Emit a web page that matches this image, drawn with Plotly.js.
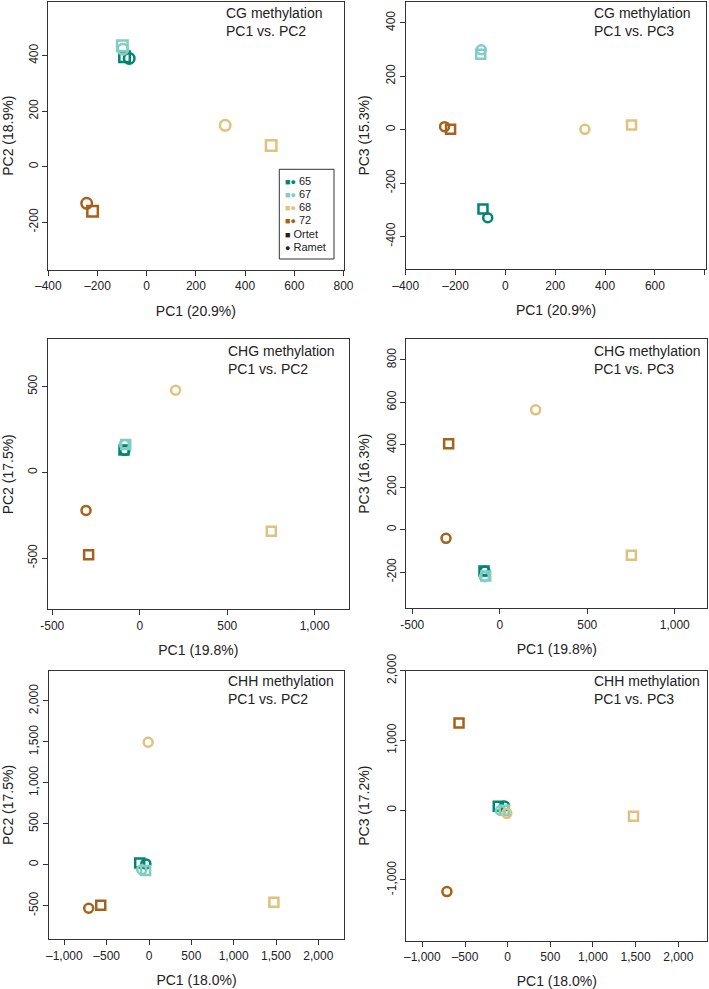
<!DOCTYPE html>
<html>
<head>
<meta charset="utf-8">
<script src="https://cdn.plot.ly/plotly-3.0.1.min.js"></script>
<style>html,body{margin:0;padding:0;background:#fff;}#chart{width:709px;height:989px;}</style>
</head>
<body>
<div id="chart"></div>
<script>
// ---- data ----
const sampleGroup = ['65','65','67','67','68','68','72','72'];
const sampleType  = ['Ortet','Ramet','Ortet','Ramet','Ortet','Ramet','Ortet','Ramet'];
const legendGroups = ['65','67','68','72'];
const legendTypes = ['Ortet','Ramet'];

const cgPC1  = [-90, -71, -99, -97, 506, 319, -220, -244];
const cgPC2  = [396, 390, 436, 423, 76, 149, -160, -132];
const cgPC3  = [-297, -330, 282, 299, 17, 1, 1, 11];

const chgPC1 = [-90, -85, -80, -87, 752, 205, -292, -307];
const chgPC2 = [130, 128, 162, 163, -344, 479, -481, -222];
const chgPC3 = [-195, -195, -219, -222, -121, 565, 405, -41];

const chhPC1 = [-110, -37, -40, -85, 1475, -10, -570, -712];
const chhPC2 = [20, 10, -70, -60, -459, 1496, -496, -532];
const chhPC3 = [55, 60, 0, -5, -86, -45, 1249, -1167];

const cgXTicks = [-400,-200,0,200,400,600,800];
const cgXText1 = ['\u2013400','\u2013200','0','200','400','600','800'];
const cgXText2 = ['\u2013400','\u2013200','0','200','400','600',''];
const cgY1Ticks = [-200,0,200,400];
const cgY1Text = ['-200','0','200','400'];
const cgY2Ticks = [-400,-200,0,200,400];
const cgY2Text = ['-400','-200','0','200','400'];
const chgXTicks = [-500,0,500,1000];
const chgXText = ['-500','0','500','1,000'];
const chgY1Ticks = [-500,0,500];
const chgY1Text = ['-500','0','500'];
const chgY2Ticks = [-200,0,200,400,600,800];
const chgY2Text = ['-200','0','200','400','600','800'];
const chhXTicks = [-1000,-500,0,500,1000,1500,2000];
const chhXText = ['\u20131,000','\u2013500','0','500','1,000','1,500','2,000'];
const chhY1Ticks = [-500,0,500,1000,1500,2000];
const chhY1Text = ['-500','0','500','1,000','1,500','2,000'];
const chhY2Ticks = [-1000,0,1000,2000];
const chhY2Text = ['-1,000','0','1,000','2,000'];

// ---- styles ----
const colorMap = {'65':'#018571','67':'#80CDC1','68':'#DFC27D','72':'#A6611A'};
const symbolMap = {'Ortet':'square-open','Ramet':'circle-open'};
const FONT = 'Liberation Sans, Arial, sans-serif';
const W = 709, H = 989;
const pxX = v => v / W;
const pxY = v => 1 - v / H;

const panels = [
  {box:[48.3,1.5,343.5,270], xr:[-400,800], yr:[-372,595], xd:cgPC1, yd:cgPC2,
   xt:'PC1 (20.9%)', yt:'PC2 (18.9%)', xtv:cgXTicks, xtt:cgXText1, ytv:cgY1Ticks, ytt:cgY1Text,
   label:'CG methylation<br>PC1 vs. PC2', lx:224, ly:22, ms:10.5},
  {box:[405.7,1.7,706.3,269.3], xr:[-400,806], yr:[-523,479], xd:cgPC1, yd:cgPC3,
   xt:'PC1 (20.9%)', yt:'PC3 (15.3%)', xtv:cgXTicks, xtt:cgXText2, ytv:cgY2Ticks, ytt:cgY2Text,
   label:'CG methylation<br>PC1 vs. PC3', lx:592, ly:22, ms:9},
  {box:[47.7,339.3,349,609.3], xr:[-526,1196], yr:[-799,776], xd:chgPC1, yd:chgPC2,
   xt:'PC1 (19.8%)', yt:'PC2 (17.5%)', xtv:chgXTicks, xtt:chgXText, ytv:chgY1Ticks, ytt:chgY1Text,
   label:'CHG methylation<br>PC1 vs. PC2', lx:225.7, ly:360, ms:9},
  {box:[406.3,339,707.3,608.3], xr:[-534,1186], yr:[-371,899], xd:chgPC1, yd:chgPC3,
   xt:'PC1 (19.8%)', yt:'PC3 (16.3%)', xtv:chgXTicks, xtt:chgXText, ytv:chgY2Ticks, ytt:chgY2Text,
   label:'CHG methylation<br>PC1 vs. PC3', lx:592, ly:360, ms:9},
  {box:[49,670.7,344,939.3], xr:[-1181,2303], yr:[-911,2370], xd:chhPC1, yd:chhPC2,
   xt:'PC1 (18.0%)', yt:'PC2 (17.5%)', xtv:chhXTicks, xtt:chhXText, ytv:chhY1Ticks, ytt:chhY1Text,
   label:'CHH methylation<br>PC1 vs. PC2', lx:225.7, ly:690, ms:9},
  {box:[406.3,670.7,707.3,940.7], xr:[-1188,2340], yr:[-1871,2000], xd:chhPC1, yd:chhPC3,
   xt:'PC1 (18.0%)', yt:'PC3 (17.2%)', xtv:chhXTicks, xtt:chhXText, ytv:chhY2Ticks, ytt:chhY2Text,
   label:'CHH methylation<br>PC1 vs. PC3', lx:592, ly:690, ms:9}
];

const data = [];
const layout = {
  width: W, height: H,
  margin: {l:0, r:0, t:0, b:0},
  paper_bgcolor: '#ffffff', plot_bgcolor: '#ffffff',
  showlegend: false,
  font: {family: FONT, color: '#222', size: 12},
  annotations: [], shapes: []
};

panels.forEach((p, i) => {
  const n = i === 0 ? '' : String(i + 1);
  data.push({
    type: 'scatter', mode: 'markers',
    x: p.xd, y: p.yd,
    xaxis: 'x' + n, yaxis: 'y' + n,
    marker: {
      symbol: sampleType.map(t => symbolMap[t]),
      color: sampleGroup.map(g => colorMap[g]),
      size: p.ms,
      line: {width: 2.5}
    },
    hoverinfo: 'x+y'
  });
  const [l, t, r, b] = p.box;
  const axCommon = {
    showgrid: false, zeroline: false,
    showline: true, mirror: true, linecolor: '#333', linewidth: 1,
    ticks: 'outside', ticklen: 5, tickcolor: '#333', tickwidth: 1,
    tickfont: {family: FONT, size: 12, color: '#222'},
    tickmode: 'array', automargin: false, fixedrange: true
  };
  layout['xaxis' + n] = Object.assign({}, axCommon, {
    domain: [pxX(l), pxX(r)], range: p.xr, anchor: 'y' + n,
    tickvals: p.xtv, ticktext: p.xtt,
    title: {text: p.xt, font: {family: FONT, size: 14, color: '#222'}, standoff: 13}
  });
  layout['yaxis' + n] = Object.assign({}, axCommon, {
    domain: [pxY(b), pxY(t)], range: p.yr, anchor: 'x' + n,
    tickvals: p.ytv, ticktext: p.ytt, tickangle: -90,
    title: {text: p.yt, font: {family: FONT, size: 14, color: '#222'}, standoff: 11}
  });
  layout.annotations.push({
    xref: 'paper', yref: 'paper', x: pxX(p.lx), y: pxY(p.ly),
    xanchor: 'left', yanchor: 'middle', align: 'left', showarrow: false,
    text: p.label, font: {family: FONT, size: 14, color: '#222'}
  });
});

// legend inside panel 1 (built from text)
layout.shapes.push({
  type: 'rect', xref: 'paper', yref: 'paper',
  x0: pxX(279.3), x1: pxX(334), y0: pxY(259), y1: pxY(169.3),
  line: {color: '#333', width: 1}, fillcolor: 'rgba(255,255,255,1)'
});
const legendRowsY = [180.5, 193.8, 207.1, 220.4, 233.7, 247];
legendGroups.forEach((g, k) => {
  layout.annotations.push({
    xref: 'paper', yref: 'paper', x: pxX(283.5), y: pxY(legendRowsY[k]),
    xanchor: 'left', yanchor: 'middle', showarrow: false, borderpad: 0,
    text: '<span style="color:' + colorMap[g] + ';font-size:9px">\u25A0\u25CF</span> ' + g,
    font: {family: FONT, size: 11, color: '#222'}
  });
});
legendTypes.forEach((tname, k) => {
  const glyph = tname === 'Ortet' ? '\u25A0' : '\u25CF';
  layout.annotations.push({
    xref: 'paper', yref: 'paper', x: pxX(283.5), y: pxY(legendRowsY[4 + k]),
    xanchor: 'left', yanchor: 'middle', showarrow: false, borderpad: 0,
    text: '<span style="font-size:9px">' + glyph + '</span> ' + tname,
    font: {family: FONT, size: 11, color: '#222'}
  });
});

Plotly.newPlot('chart', data, layout, {displayModeBar: false, staticPlot: true});
</script>
</body>
</html>
